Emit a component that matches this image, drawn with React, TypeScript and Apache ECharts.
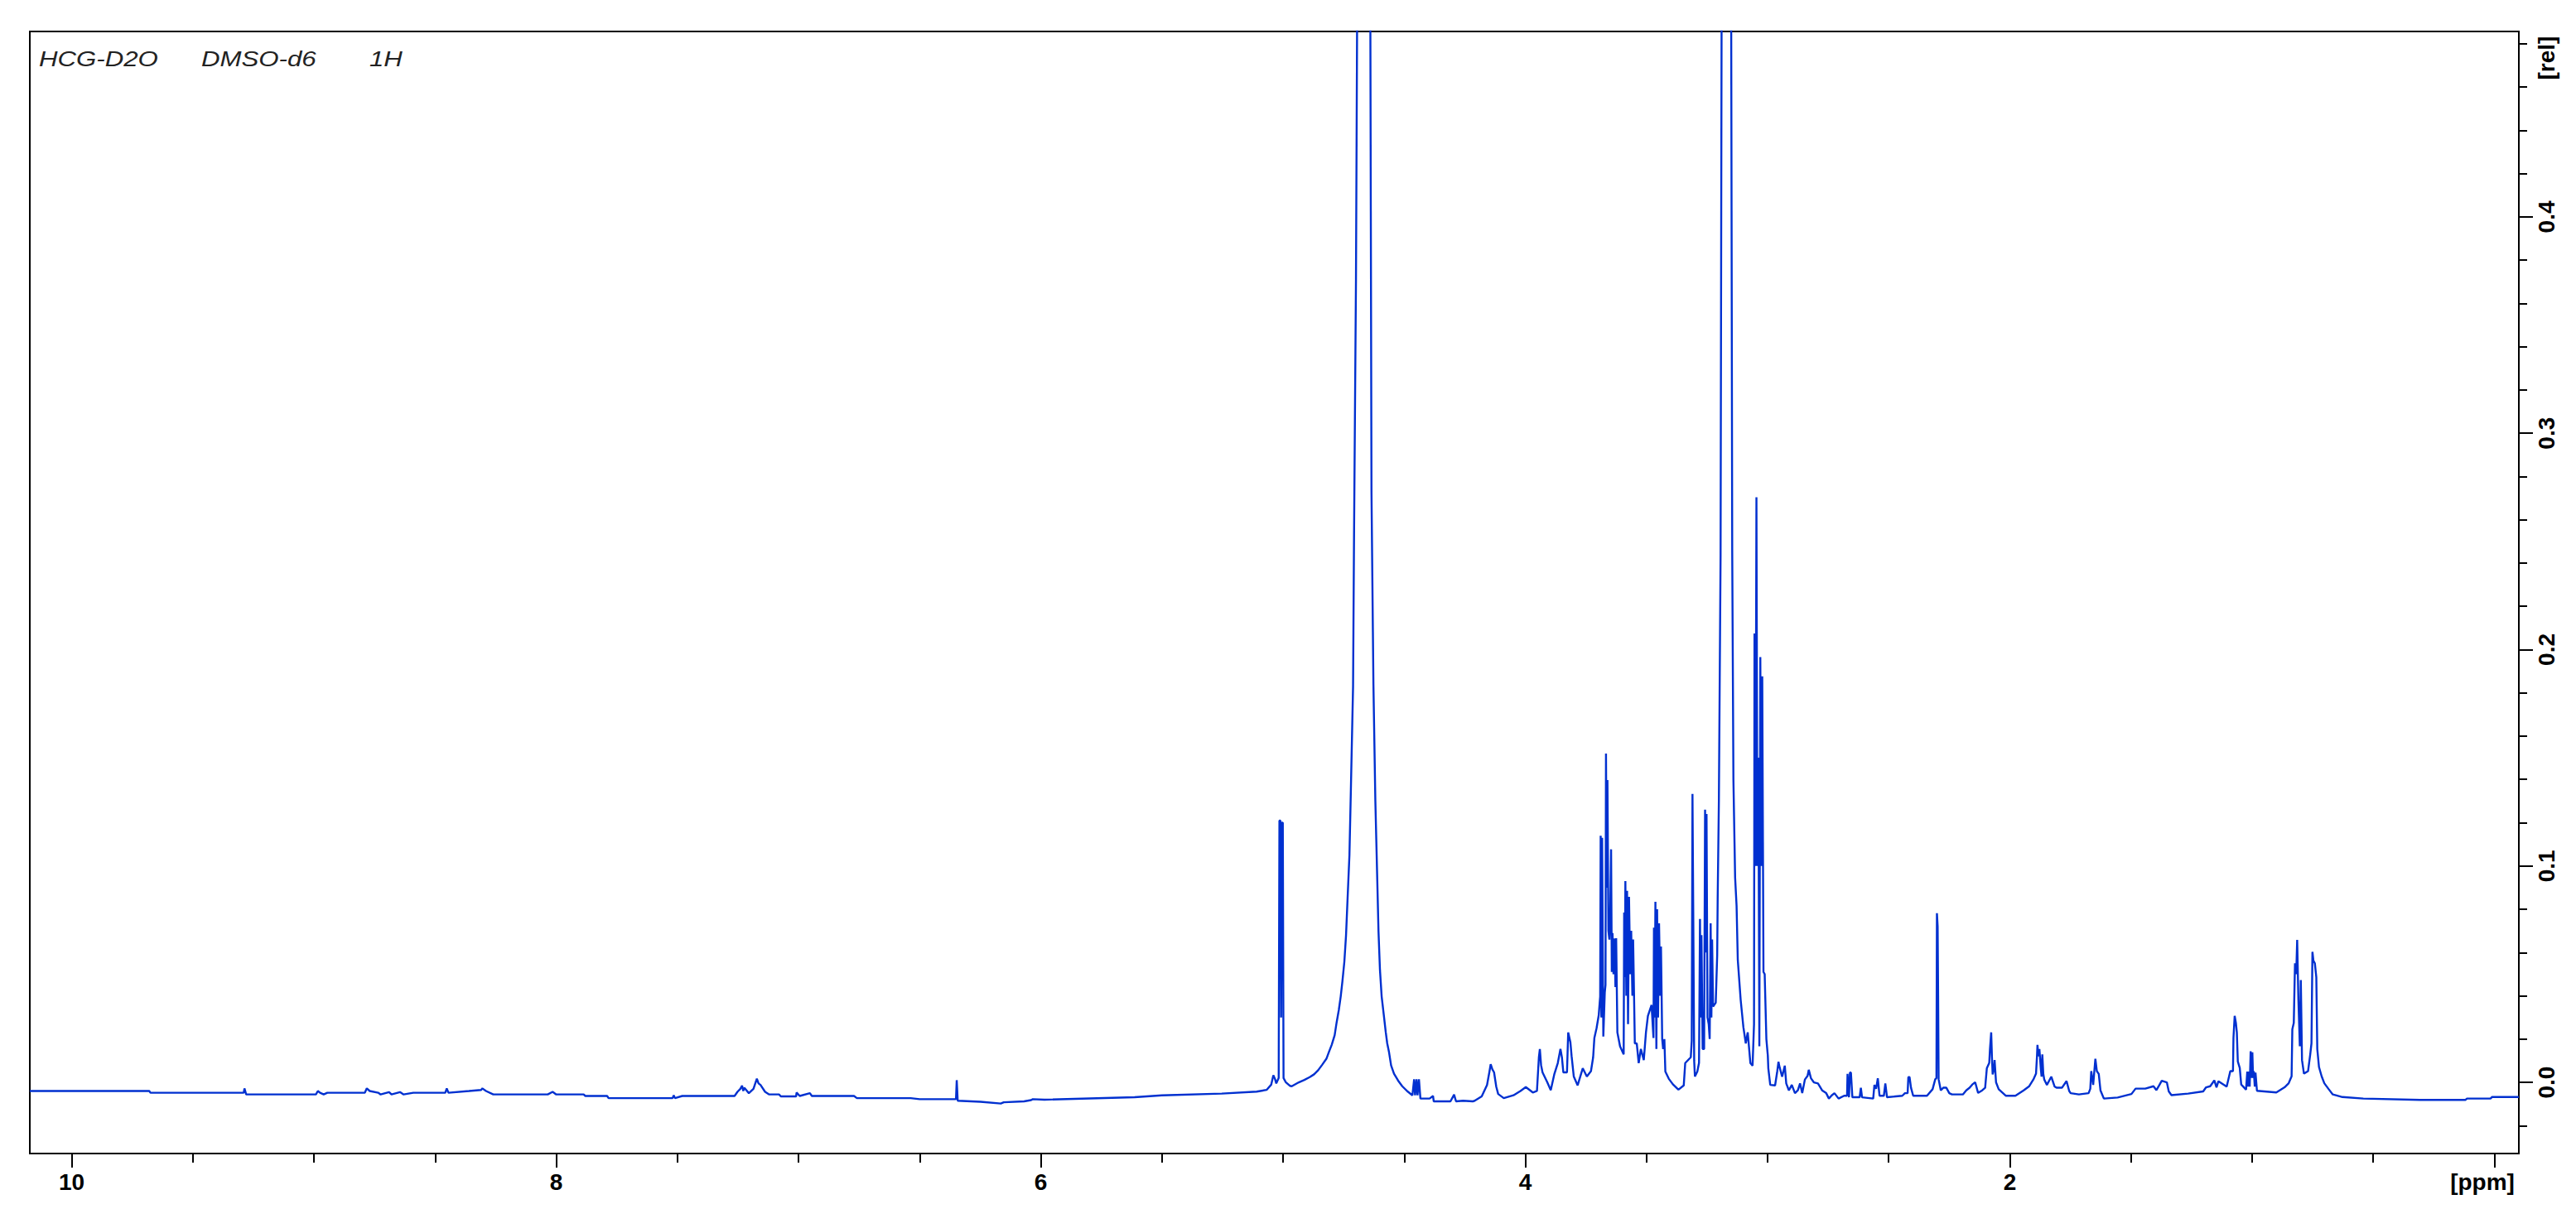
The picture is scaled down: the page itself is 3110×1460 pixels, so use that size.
import React, { useEffect, useRef } from "react";
import * as echarts from "echarts";

const W = 3110;
const H = 1460;

// Axis ranges (ppm axis runs right-to-left)
const PPM_MAX = 10.173;
const PPM_MIN = -0.101;
const REL_MIN = -0.0329;
const REL_MAX = 0.4857;

const ppmTickLabels = [10, 8, 6, 4, 2];
const titleParts = ["HCG-D2O", "DMSO-d6", "1H"];

// Spectrum: [chemical shift (ppm), relative intensity]
const aromaticRegion: [number, number][] = [
  [10.173, -0.004], [9.68, -0.004], [9.675, -0.0048], [9.29, -0.0048], [9.287, -0.0028], [9.28, -0.0056],
  [8.992, -0.0056], [8.984, -0.004], [8.975, -0.0048], [8.96, -0.0056], [8.945, -0.0048], [8.79, -0.0048],
  [8.782, -0.0028], [8.77, -0.004], [8.735, -0.0048], [8.725, -0.0056], [8.69, -0.0045], [8.68, -0.0056],
  [8.645, -0.0045], [8.63, -0.0056], [8.59, -0.0048], [8.458, -0.0048], [8.452, -0.0028], [8.445, -0.0048],
  [8.36, -0.004], [8.31, -0.0035], [8.305, -0.0028], [8.29, -0.004], [8.26, -0.0056], [8.035, -0.0056],
  [8.015, -0.0044], [8.0, -0.0056], [7.887, -0.0056], [7.88, -0.0063], [7.79, -0.0063], [7.784, -0.0073],
  [7.52, -0.0073], [7.515, -0.006], [7.51, -0.0073], [7.48, -0.0063], [7.264, -0.0063], [7.252, -0.0044],
  [7.24, -0.003], [7.233, -0.0015], [7.228, -0.004], [7.224, -0.0025], [7.205, -0.005], [7.186, -0.003],
  [7.172, 0.0017], [7.165, -0.0005], [7.157, -0.0012], [7.138, -0.0044], [7.121, -0.0056], [7.08, -0.0056],
  [7.073, -0.0065], [7.01, -0.0065], [7.008, -0.0047], [6.995, -0.0063], [6.953, -0.005], [6.945, -0.0063],
  [6.771, -0.0063], [6.759, -0.0073], [6.537, -0.0073],
];

const anomericRegion: [number, number][] = [
  [6.5, -0.0078], [6.35, -0.0078], [6.347, 0.001], [6.343, -0.0085], [6.249, -0.009], [6.165, -0.0098],
  [6.153, -0.0092], [6.069, -0.0088], [6.04, -0.0082], [6.033, -0.0078], [5.985, -0.008], [5.613, -0.0069],
  [5.5, -0.006], [5.253, -0.0052], [5.109, -0.0043], [5.068, -0.0035], [5.049, -0.0011], [5.04, 0.0033],
  [5.033, 0.0015], [5.028, -0.0005], [5.018, 0.002], [5.015, 0.121], [5.011, 0.121], [5.008, 0.03],
  [5.005, 0.12], [5.001, 0.12], [4.998, 0.002], [4.989, 0.0001], [4.972, -0.0016],
];

const waterSignal: [number, number][] = [
  [4.964, -0.0018], [4.935, 0.0], [4.912, 0.0011], [4.89, 0.0024], [4.872, 0.0037], [4.855, 0.0056],
  [4.838, 0.0082], [4.821, 0.0109], [4.81, 0.0142], [4.799, 0.0174], [4.787, 0.0218], [4.779, 0.0276],
  [4.77, 0.0333], [4.762, 0.0397], [4.755, 0.0467], [4.747, 0.0557], [4.74, 0.068], [4.734, 0.084],
  [4.726, 0.105], [4.72, 0.1355], [4.711, 0.183], [4.707, 0.253], [4.699, 0.371], [4.69, 0.6],
  [4.666, 1.0], [4.642, 0.6], [4.635, 0.273], [4.627, 0.184], [4.619, 0.13], [4.611, 0.093],
  [4.606, 0.0697], [4.6, 0.052], [4.593, 0.0397], [4.584, 0.031], [4.576, 0.0231], [4.57, 0.018],
  [4.563, 0.0142], [4.554, 0.0078], [4.542, 0.004], [4.525, 0.0008], [4.508, -0.0018], [4.485, -0.0043],
  [4.466, -0.006], [4.459, 0.0014], [4.455, -0.006], [4.449, 0.0014], [4.445, -0.006], [4.439, 0.0014],
  [4.433, -0.0075], [4.395, -0.0075], [4.381, -0.0063], [4.378, -0.0088], [4.337, -0.0088], [4.309, -0.0088],
  [4.294, -0.0057], [4.286, -0.0088], [4.257, -0.0085], [4.217, -0.0088],
];

const sugarRegion: [number, number][] = [
  [4.209, -0.0085], [4.18, -0.0065], [4.158, -0.0012], [4.148, 0.005], [4.143, 0.0084], [4.136, 0.006],
  [4.129, 0.0046], [4.12, -0.002], [4.112, -0.0054], [4.089, -0.0073], [4.049, -0.006], [4.02, -0.004],
  [3.998, -0.0022], [3.969, -0.0047], [3.952, -0.004], [3.944, 0.0116], [3.94, 0.0154], [3.935, 0.008],
  [3.929, 0.0046], [3.91, 0.0002], [3.895, -0.0036], [3.88, 0.0039], [3.866, 0.0089], [3.855, 0.0154],
  [3.849, 0.0116], [3.843, 0.0046], [3.828, 0.0046], [3.823, 0.0231], [3.814, 0.0186], [3.809, 0.0122],
  [3.8, 0.0027], [3.784, -0.0014], [3.763, 0.0065], [3.746, 0.0027], [3.729, 0.0052], [3.72, 0.0116],
  [3.715, 0.0205], [3.706, 0.025], [3.697, 0.031], [3.691, 0.0397],
  [3.689, 0.114], [3.686, 0.03], [3.683, 0.113], [3.678, 0.0212], [3.672, 0.0416], [3.669, 0.045],
  [3.667, 0.152], [3.664, 0.09], [3.661, 0.1397], [3.657, 0.07], [3.653, 0.066], [3.65, 0.075],
  [3.646, 0.1077], [3.643, 0.051], [3.64, 0.069], [3.636, 0.05], [3.632, 0.0665], [3.628, 0.044],
  [3.625, 0.0666], [3.62, 0.0231], [3.609, 0.0167], [3.594, 0.0129],
  [3.592, 0.0785], [3.589, 0.0486], [3.587, 0.093], [3.583, 0.04], [3.58, 0.0885], [3.576, 0.0269],
  [3.572, 0.0857], [3.567, 0.05], [3.563, 0.07], [3.558, 0.04], [3.555, 0.066], [3.548, 0.018],
  [3.54, 0.018], [3.532, 0.0089], [3.523, 0.0154], [3.511, 0.0103], [3.502, 0.0231], [3.494, 0.0307],
  [3.479, 0.0358], [3.471, 0.0205],
  [3.469, 0.0715], [3.466, 0.03], [3.463, 0.0834], [3.459, 0.0154], [3.456, 0.08], [3.452, 0.03],
  [3.448, 0.0735], [3.443, 0.04], [3.44, 0.0628], [3.435, 0.02], [3.431, 0.0154], [3.426, 0.02],
  [3.422, 0.005], [3.408, 0.0017], [3.391, -0.0009], [3.368, -0.0034], [3.346, -0.0014], [3.34, 0.0089],
  [3.317, 0.0116], [3.313, 0.0193],
  [3.31, 0.1333], [3.307, 0.082], [3.303, 0.01], [3.3, 0.0027], [3.29, 0.005], [3.283, 0.009],
  [3.279, 0.0755], [3.276, 0.03], [3.273, 0.068], [3.268, 0.0154], [3.262, 0.0154], [3.258, 0.126],
  [3.255, 0.06], [3.252, 0.124], [3.248, 0.03], [3.243, 0.0269], [3.239, 0.02], [3.235, 0.0735],
  [3.232, 0.03], [3.229, 0.066], [3.225, 0.035], [3.214, 0.0368], [3.208, 0.0588], [3.206, 0.0849],
  [3.201, 0.1305], [3.194, 0.2438], [3.188, 0.6], [3.17, 1.0], [3.152, 0.6], [3.146, 0.246],
  [3.141, 0.1397], [3.134, 0.0946], [3.128, 0.0816], [3.123, 0.0566], [3.111, 0.038], [3.1, 0.0256],
  [3.09, 0.018], [3.082, 0.0231], [3.071, 0.0089], [3.062, 0.0077], [3.056, 0.0269], [3.054, 0.2075],
  [3.05, 0.1], [3.046, 0.2704], [3.042, 0.1], [3.038, 0.15], [3.034, 0.0167], [3.03, 0.1965],
  [3.026, 0.1], [3.022, 0.1876], [3.017, 0.051], [3.012, 0.05], [3.005, 0.02],
];

const aliphaticRegion: [number, number][] = [
  [2.999, 0.0123], [2.997, 0.0065], [2.989, -0.0012], [2.969, -0.0014], [2.96, 0.0052], [2.955, 0.0095],
  [2.952, 0.0077], [2.94, 0.0026], [2.929, 0.0077], [2.923, -0.0005], [2.912, -0.0037], [2.9, -0.0012],
  [2.887, -0.005], [2.875, -0.0037], [2.866, -0.0005], [2.857, -0.005], [2.846, 0.0013], [2.835, 0.003],
  [2.83, 0.0058], [2.821, 0.0019], [2.809, 0.0], [2.792, -0.0005], [2.775, -0.0037], [2.758, -0.005],
  [2.747, -0.0075], [2.735, -0.006], [2.724, -0.005], [2.707, -0.0075], [2.684, -0.0062], [2.672, -0.0062],
  [2.67, 0.0039], [2.664, -0.0069], [2.66, 0.0045], [2.656, 0.0045], [2.65, -0.0069], [2.62, -0.0069],
  [2.615, -0.0025], [2.61, -0.0069], [2.564, -0.0075], [2.559, -0.0012], [2.552, -0.003], [2.545, 0.0019],
  [2.538, -0.0062], [2.52, -0.0062], [2.514, -0.0005], [2.507, -0.0069], [2.444, -0.0062], [2.433, -0.005],
  [2.422, -0.005], [2.419, 0.0024], [2.414, 0.0024], [2.408, -0.0025], [2.399, -0.0062], [2.342, -0.0062],
  [2.319, -0.0032], [2.308, 0.0014], [2.303, 0.002], [2.301, 0.0782], [2.298, 0.072], [2.296, 0.04],
  [2.294, 0.0014], [2.285, -0.0037], [2.275, -0.0025], [2.262, -0.0025], [2.25, -0.005], [2.239, -0.0056],
  [2.194, -0.0056], [2.18, -0.0037], [2.166, -0.0025], [2.155, -0.001], [2.143, 0.0], [2.131, -0.0049],
  [2.114, -0.0037], [2.102, -0.0025], [2.095, 0.0065], [2.085, 0.009], [2.082, 0.0154], [2.077, 0.0231],
  [2.074, 0.012], [2.071, 0.0037], [2.066, 0.006], [2.063, 0.0103], [2.057, 0.0], [2.046, -0.0032],
  [2.017, -0.0062], [1.977, -0.0062], [1.943, -0.0037], [1.92, -0.0018], [1.903, 0.0013], [1.892, 0.004],
  [1.888, 0.012], [1.886, 0.0173], [1.882, 0.012], [1.878, 0.0154], [1.872, 0.006], [1.869, 0.0026],
  [1.866, 0.0129], [1.862, 0.004], [1.858, 0.0013], [1.847, -0.0012], [1.829, 0.0026], [1.815, -0.002],
  [1.806, -0.0025], [1.785, -0.0025], [1.766, 0.0006], [1.755, -0.004], [1.749, -0.005], [1.715, -0.0056],
  [1.675, -0.005], [1.668, -0.003], [1.664, 0.0052], [1.656, -0.0012], [1.647, 0.0109], [1.641, 0.0052],
  [1.633, 0.0039], [1.626, -0.0037], [1.612, -0.0075], [1.555, -0.007], [1.498, -0.0054], [1.481, -0.0029],
  [1.441, -0.0029],
];

const methylRegion: [number, number][] = [
  [1.407, -0.0018], [1.395, -0.0036], [1.384, -0.0015], [1.373, 0.0007], [1.352, 0.0], [1.344, -0.0042],
  [1.333, -0.0059], [1.264, -0.0052], [1.202, -0.0042], [1.19, -0.0023], [1.173, -0.0018], [1.156, 0.0009],
  [1.147, -0.0023], [1.139, 0.0005], [1.105, -0.002], [1.099, 0.0009], [1.09, 0.0052], [1.079, 0.0052],
  [1.077, 0.0205], [1.072, 0.0307], [1.067, 0.0275], [1.063, 0.023], [1.059, 0.0096], [1.051, 0.0067],
  [1.045, -0.001], [1.025, -0.0034], [1.02, 0.005], [1.017, -0.002], [1.014, 0.005], [1.01, -0.002],
  [1.006, 0.0144], [1.003, 0.002], [0.999, 0.0139], [0.996, 0.002], [0.993, 0.0052], [0.989, -0.002],
  [0.986, 0.0045], [0.98, -0.0039], [0.9, -0.0047], [0.866, -0.0023], [0.849, -0.0004], [0.837, 0.0028],
  [0.834, 0.0245], [0.828, 0.0275], [0.823, 0.055], [0.818, 0.05], [0.814, 0.0658], [0.809, 0.0384],
  [0.803, 0.0167], [0.799, 0.0473], [0.794, 0.0103], [0.786, 0.004], [0.769, 0.0052], [0.76, 0.013],
  [0.755, 0.018], [0.751, 0.0603], [0.747, 0.0562], [0.741, 0.055], [0.735, 0.0486], [0.731, 0.0154],
  [0.724, 0.0071], [0.713, 0.0028], [0.702, -0.0004], [0.685, -0.003], [0.667, -0.0056], [0.627, -0.0068],
  [0.541, -0.0075], [0.307, -0.0081], [0.119, -0.0081], [0.113, -0.0075], [0.016, -0.0075], [0.01, -0.0068],
  [-0.101, -0.0068],
];

const spectrum = [
  ...aromaticRegion,
  ...anomericRegion,
  ...waterSignal,
  ...sugarRegion,
  ...aliphaticRegion,
  ...methylRegion,
];

// Layout (pixels)
const FRAME = { left: 36, top: 38, right: 3041, bottom: 1393 };
const xPx = (p: number) =>
  FRAME.left + ((PPM_MAX - p) / (PPM_MAX - PPM_MIN)) * (FRAME.right - FRAME.left);
const yPx = (v: number) =>
  FRAME.top + ((REL_MAX - v) / (REL_MAX - REL_MIN)) * (FRAME.bottom - FRAME.top);

const FONT = "'Liberation Sans', Arial, Helvetica, sans-serif";
const labelStyle = { fontFamily: FONT, fontWeight: "bold" as const, fontSize: 28, color: "#000" };
const tickLine = { color: "#000", width: 2 };
const hiddenLine = { show: false, onZero: false };

export default function App() {
  const ref = useRef<HTMLDivElement>(null);

  useEffect(() => {
    if (!ref.current) return;
    const chart = echarts.init(ref.current, undefined, { renderer: "svg", width: W, height: H });

    const titleX = [47, 243, 446];

    const option: any = {
      animation: false,
      backgroundColor: "#fff",
      grid: [
        {
          left: FRAME.left, top: FRAME.top,
          width: FRAME.right - FRAME.left, height: FRAME.bottom - FRAME.top,
          show: true, borderColor: "#000", borderWidth: 2, backgroundColor: "transparent",
        },
        {
          left: xPx(10), width: xPx(0) - xPx(10),
          top: FRAME.top, height: FRAME.bottom - FRAME.top, show: false,
        },
        {
          left: FRAME.left, width: FRAME.right - FRAME.left,
          top: yPx(0.4), height: yPx(0) - yPx(0.4), show: false,
        },
        {
          left: FRAME.left, width: FRAME.right - FRAME.left,
          top: yPx(0.48), height: yPx(-0.02) - yPx(0.48), show: false,
        },
      ],
      xAxis: [
        { gridIndex: 0, type: "value", min: PPM_MIN, max: PPM_MAX, inverse: true, show: false, axisLine: hiddenLine },
        {
          gridIndex: 1, type: "value", min: 0, max: 10, interval: 2, inverse: true, position: "bottom",
          axisLine: hiddenLine, splitLine: { show: false },
          axisTick: { show: true, length: 17, lineStyle: tickLine },
          minorTick: { show: true, splitNumber: 4, length: 11, lineStyle: tickLine },
          minorSplitLine: { show: false },
          axisLabel: {
            ...labelStyle, margin: 20, showMinLabel: true, showMaxLabel: true,
            formatter: (v: number) => (ppmTickLabels.indexOf(v) >= 0 ? String(v) : ""),
          },
        },
        { gridIndex: 2, type: "value", min: 0, max: 1, show: false, axisLine: hiddenLine },
        { gridIndex: 3, type: "value", min: 0, max: 1, show: false, axisLine: hiddenLine },
      ],
      yAxis: [
        { gridIndex: 0, type: "value", min: REL_MIN, max: REL_MAX, show: false, axisLine: hiddenLine },
        { gridIndex: 1, type: "value", min: 0, max: 1, show: false, axisLine: hiddenLine },
        {
          gridIndex: 2, type: "value", position: "right", min: 0, max: 0.4, interval: 0.1,
          axisLine: hiddenLine, splitLine: { show: false },
          axisTick: { show: true, length: 17, lineStyle: tickLine },
          axisLabel: {
            ...labelStyle, rotate: 90, margin: 19, showMinLabel: true, showMaxLabel: true,
            formatter: (v: number) => v.toFixed(1),
          },
        },
        {
          gridIndex: 3, type: "value", position: "right", min: -0.02, max: 0.48, interval: 0.02,
          axisLine: hiddenLine, splitLine: { show: false },
          axisTick: { show: true, length: 10, lineStyle: tickLine },
          axisLabel: { show: false },
        },
      ],
      series: [
        {
          type: "line",
          xAxisIndex: 0,
          yAxisIndex: 0,
          data: spectrum,
          symbol: "none",
          showSymbol: false,
          silent: true,
          clip: true,
          lineStyle: { color: "#0030d0", width: 2.4, join: "bevel" },
          emphasis: { disabled: true },
        },
      ],
      graphic: [
        ...titleParts.map((t, i) => ({
          type: "text",
          x: titleX[i],
          y: 58,
          scaleX: 1.2,
          style: {
            text: t, fontSize: 26, fontStyle: "italic", fontFamily: FONT, fill: "#222",
            align: "left", verticalAlign: "top",
          },
        })),
        {
          type: "text",
          x: 2997,
          y: FRAME.bottom + 20,
          style: {
            text: "[ppm]", fontSize: 28, fontWeight: "bold", fontFamily: FONT, fill: "#000",
            align: "center", verticalAlign: "top",
          },
        },
        {
          type: "text",
          x: FRAME.right + 19,
          y: 70,
          rotation: Math.PI / 2,
          style: {
            text: "[rel]", fontSize: 28, fontWeight: "bold", fontFamily: FONT, fill: "#000",
            align: "center", verticalAlign: "top",
          },
        },
      ],
    };

    chart.setOption(option);
    return () => chart.dispose();
  }, []);

  return (
    <div
      ref={ref}
      style={{ position: "fixed", left: 0, top: 0, width: W, height: H, background: "#fff" }}
    />
  );
}
